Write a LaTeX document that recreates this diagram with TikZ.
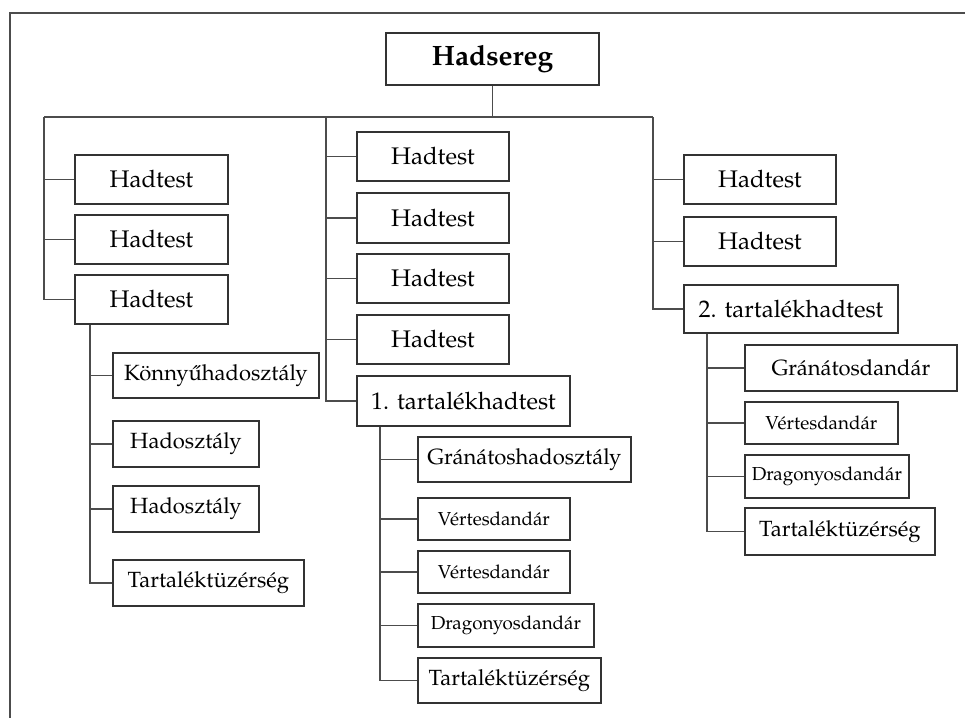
\documentclass[tikz,border=0pt]{standalone}
\usepackage{fontspec}
\setmainfont{TeX Gyre Pagella}
\usetikzlibrary{positioning}

\begin{document}
\begin{tikzpicture}[x=0.5pt, y=-0.5pt,
    unit/.style = {draw=black!80, line width=0.9pt, anchor=west, inner sep=0pt, font=\fontsize{12}{14}\selectfont},
    sub/.style = {unit, font=\fontsize{11}{13}\selectfont},
    brig/.style = {unit, font=\fontsize{9.4}{11}\selectfont},
    link/.style = {draw=black!70, line width=0.7pt}]
    \useasboundingbox (0,0) rectangle (965,718);
    \draw[link] (10,718) -- (10,13) -- (965,13);

    \node[unit, anchor=center, font=\bfseries\fontsize{14}{16}\selectfont, minimum width=106.5pt, minimum height=26pt] (hs) at (492.5,59) {Hadsereg};
    \coordinate (bl) at (44,117);
    \coordinate (bm) at (326,117);
    \coordinate (br) at (653,117);

    % left wing
    \node[unit, minimum width=76.5pt, minimum height=24.5pt] (l1) at (74,179.5) {Hadtest};
    \node[unit, minimum width=76.5pt, minimum height=24.5pt] (l2) at (74,239.5) {Hadtest};
    \node[unit, minimum width=76.5pt, minimum height=24.5pt] (l3) at (74,299.5) {Hadtest};
    \node[sub, minimum width=103pt, minimum height=22.5pt] (lk) at (112,375.5) {Könnyűhadosztály};
    \node[sub, minimum width=73pt, minimum height=23pt] (lh1) at (112,444) {Hadosztály};
    \node[sub, minimum width=73pt, minimum height=23pt] (lh2) at (112,509) {Hadosztály};
    \node[sub, minimum width=95.5pt, minimum height=23pt] (lt) at (112,583) {Tartaléktüzérség};

    % centre
    \node[unit, minimum width=76pt, minimum height=24.5pt] (m1) at (356,156.5) {Hadtest};
    \node[unit, minimum width=76pt, minimum height=25pt] (m2) at (356,218) {Hadtest};
    \node[unit, minimum width=76pt, minimum height=24.5pt] (m3) at (356,278.5) {Hadtest};
    \node[unit, minimum width=76pt, minimum height=24.5pt] (m4) at (356,339.5) {Hadtest};
    \node[unit, minimum width=106.5pt, minimum height=25pt] (m5) at (356,401) {1. tartalékhadtest};
    \node[sub, minimum width=106.5pt, minimum height=22.5pt] (mg) at (417,459.5) {Gránátoshadosztály};
    \node[brig, minimum width=76pt, minimum height=21pt] (mv1) at (417,519) {Vértesdandár};
    \node[brig, minimum width=76pt, minimum height=21pt] (mv2) at (417,572) {Vértesdandár};
    \node[brig, minimum width=88pt, minimum height=21.5pt] (md) at (417,625.5) {Dragonyosdandár};
    \node[sub, minimum width=91.5pt, minimum height=22.5pt] (mt) at (417,680.5) {Tartaléktüzérség};

    % right wing
    \node[unit, minimum width=76pt, minimum height=24.5pt] (r1) at (683,179.5) {Hadtest};
    \node[unit, minimum width=76pt, minimum height=24.5pt] (r2) at (683,241.5) {Hadtest};
    \node[unit, minimum width=107pt, minimum height=24pt] (r3) at (683,309) {2. tartalékhadtest};
    \node[sub, minimum width=106pt, minimum height=23pt] (rg) at (744,368) {Gránátosdandár};
    \node[brig, minimum width=76.5pt, minimum height=21pt] (rv) at (744,423) {Vértesdandár};
    \node[brig, minimum width=82pt, minimum height=21.5pt] (rd) at (744,476.5) {Dragonyosdandár};
    \node[sub, minimum width=95pt, minimum height=23.5pt] (rt) at (744,531.5) {Tartaléktüzérség};

    \draw[link] (hs) -- (hs |- bl);
    \draw[link] (bl) -- (br);

    \draw[link] (bl) |- (l3.west);
    \foreach \n in {l1,l2} \draw[link] (\n.west) -- (\n.west -| bl);
    \coordinate (ls) at ([xshift=8pt]l3.south west);
    \draw[link] (ls) |- (lt.west);
    \foreach \n in {lk,lh1,lh2} \draw[link] (\n.west) -- (\n.west -| ls);

    \draw[link] (bm) |- (m5.west);
    \foreach \n in {m1,m2,m3,m4} \draw[link] (\n.west) -- (\n.west -| bm);
    \coordinate (ms) at ([xshift=12pt]m5.south west);
    \draw[link] (ms) |- (mt.west);
    \foreach \n in {mg,mv1,mv2,md} \draw[link] (\n.west) -- (\n.west -| ms);

    \draw[link] (br) |- (r3.west);
    \foreach \n in {r1,r2} \draw[link] (\n.west) -- (\n.west -| br);
    \coordinate (rs) at ([xshift=12pt]r3.south west);
    \draw[link] (rs) |- (rt.west);
    \foreach \n in {rg,rv,rd} \draw[link] (\n.west) -- (\n.west -| rs);
\end{tikzpicture}
\end{document}
